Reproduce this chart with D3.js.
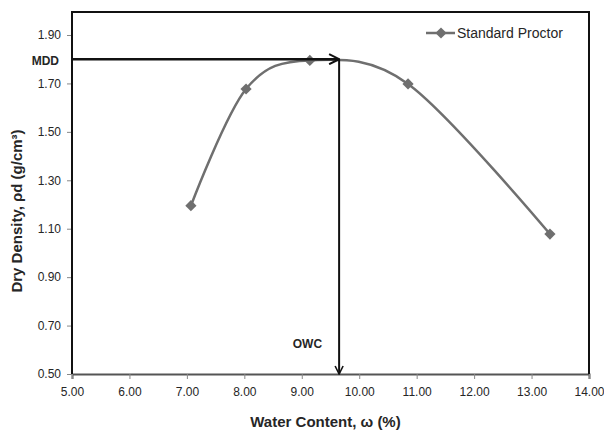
<!DOCTYPE html>
<html>
<head>
<meta charset="utf-8">
<script src="https://cdn.jsdelivr.net/npm/d3@7"></script>
<style>
  body { margin: 0; background: #fff; }
  svg text { font-family: "Liberation Sans", Arial, sans-serif; }
</style>
</head>
<body>
<div id="vizHolder"></div>
<script>
// data
var waterContent = [7.07, 8.03, 9.14, 10.85, 13.32],
		dryDensity = [1.195, 1.677, 1.795, 1.698, 1.078],
		xTicks = [5, 6, 7, 8, 9, 10, 11, 12, 13, 14],
		yTicks = [0.5, 0.7, 0.9, 1.1, 1.3, 1.5, 1.7, 1.9],
		mdd = 1.80,
		owc = 9.65,
		seriesName = 'Standard Proctor';

var width = 604, height = 437,
		padL = 72, padR = 589, padT = 12, padB = 374,
		lineColor = '#6f6f6f', textColor = '#262626';

var svg = d3.select('#vizHolder').append('svg')
	.attr('width', width)
	.attr('height', height);

var xScale = d3.scaleLinear().domain([5, 14]).range([padL, padR]);
var yScale = d3.scaleLinear().domain([0.5, 1.995]).range([padB, padT]);

// axes
var xAxis = svg.append('g')
	.attr('transform', 'translate(0,' + padB + ')')
	.call(d3.axisBottom(xScale).tickValues(xTicks).tickSize(5).tickPadding(8).tickFormat(d3.format('.2f')));
var yAxis = svg.append('g')
	.attr('transform', 'translate(' + padL + ',0)')
	.call(d3.axisLeft(yScale).tickValues(yTicks).tickSize(5).tickPadding(6).tickFormat(d3.format('.2f')));
yAxis.select('.domain').remove();
xAxis.select('.domain').attr('stroke', '#555').attr('stroke-width', 2);
svg.selectAll('.tick line').attr('stroke', '#888');
svg.selectAll('.tick text').attr('fill', textColor).style('font-size', '12px');

// plot area border
svg.append('path')
	.attr('d', 'M' + padL + ',' + padB + 'V' + padT + 'H' + padR + 'V' + padB)
	.attr('fill', 'none')
	.attr('stroke', '#111')
	.attr('stroke-width', 2);

// arrow head
var defs = svg.append('defs');
defs.append('marker')
	.attr('id', 'arrow')
	.attr('viewBox', '0 0 10 10')
	.attr('refX', 9).attr('refY', 5)
	.attr('markerWidth', 5).attr('markerHeight', 5)
	.attr('markerUnits', 'strokeWidth')
	.attr('orient', 'auto')
	.append('path')
	.attr('d', 'M1,1L9,5L1,9')
	.attr('fill', 'none')
	.attr('stroke', '#111')
	.attr('stroke-width', 1.6);

// smooth series line (Excel-style smoothing)
var pts = waterContent.map(function(d, i) { return [d, dryDensity[i]]; });
var line = d3.line()
	.x(function(d) { return xScale(d[0]); })
	.y(function(d) { return yScale(d[1]); })
	.curve(d3.curveCatmullRom.alpha(0));

svg.append('path')
	.datum(pts)
	.attr('d', line)
	.attr('fill', 'none')
	.attr('stroke', lineColor)
	.attr('stroke-width', 2.5);

var diamond = d3.symbol().type(d3.symbolDiamond2).size(80);
svg.selectAll('.pt')
	.data(pts)
	.enter()
	.append('path')
	.attr('class', 'pt')
	.attr('d', diamond)
	.attr('fill', lineColor)
	.attr('transform', function(d) { return 'translate(' + xScale(d[0]) + ',' + yScale(d[1]) + ')'; });

// MDD and OWC arrows
svg.append('line')
	.attr('x1', xScale(5)).attr('y1', yScale(mdd))
	.attr('x2', xScale(owc)).attr('y2', yScale(mdd))
	.attr('stroke', '#111').attr('stroke-width', 2.5)
	.attr('marker-end', 'url(#arrow)');
svg.append('line')
	.attr('x1', xScale(owc)).attr('y1', yScale(mdd))
	.attr('x2', xScale(owc)).attr('y2', yScale(0.5))
	.attr('stroke', '#111').attr('stroke-width', 2)
	.attr('marker-end', 'url(#arrow)');

svg.append('text')
	.attr('x', xScale(5) - 13).attr('y', yScale(mdd) + 6)
	.attr('text-anchor', 'end')
	.style('font-size', '12px').style('font-weight', 'bold')
	.attr('fill', textColor)
	.text('MDD');
svg.append('text')
	.attr('x', xScale(owc) - 17).attr('y', yScale(0.62) + 3)
	.attr('text-anchor', 'end')
	.style('font-size', '12px').style('font-weight', 'bold')
	.attr('fill', textColor)
	.text('OWC');

// legend
var legend = svg.append('g').attr('transform', 'translate(426,33)');
legend.append('line')
	.attr('x1', 0).attr('x2', 29).attr('y1', 0).attr('y2', 0)
	.attr('stroke', lineColor).attr('stroke-width', 2.5);
legend.append('path')
	.attr('d', diamond)
	.attr('fill', lineColor)
	.attr('transform', 'translate(15,0)');
legend.append('text')
	.attr('x', 31).attr('y', 5)
	.style('font-size', '14px')
	.attr('fill', textColor)
	.text(seriesName);

// axis titles
svg.append('text')
	.attr('x', (padL + padR) / 2 - 5).attr('y', 427)
	.attr('text-anchor', 'middle')
	.style('font-size', '15px').style('font-weight', 'bold')
	.attr('fill', textColor)
	.text('Water Content, ω (%)');
svg.append('text')
	.attr('transform', 'translate(22,' + ((padT + padB) / 2 + 18) + ') rotate(-90)')
	.attr('text-anchor', 'middle')
	.style('font-size', '15px').style('font-weight', 'bold')
	.attr('fill', textColor)
	.text('Dry Density, ρd (g/cm³)');
</script>
</body>
</html>
